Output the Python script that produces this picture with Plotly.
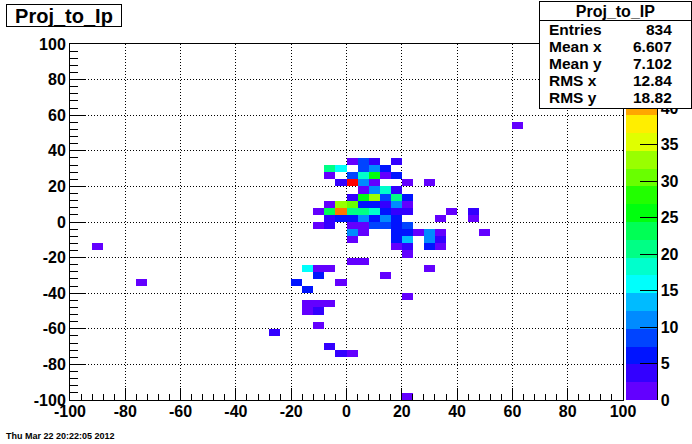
import colorsys
import plotly.graph_objects as go

# ---------------- data ----------------
hist_title = "Proj_to_Ip"
stats_title = "Proj_to_IP"
date_text = "Thu Mar 22 20:22:05 2012"

stats_labels = ["Entries", "Mean x", "Mean y", "RMS x", "RMS y"]
stats_values = ["834", "6.607", "7.102", "12.84", "18.82"]

axis_lo, axis_hi, bin_w = -100, 100, 4
z_max = 48.8

axis_tick_vals = [-100, -80, -60, -40, -20, 0, 20, 40, 60, 80, 100]
axis_tick_text = ["-100", "-80", "-60", "-40", "-20", "0", "20", "40", "60", "80", "100"]
cbar_tick_vals = [0, 5, 10, 15, 20, 25, 30, 35, 40]
cbar_tick_text = ["0", "5", "10", "15", "20", "25", "30", "35", "40"]

# non-empty cells: lower bin edge in x, lower bin edge in y, count
cell_x = [60,
          0, 4, 8, 16,
          -8, -4, 4, 8, 12,
          -8, 0, 4, 8, 12, 16,
          -4, 0, 4, 8, 20, 28,
          4, 8, 12, 16,
          0, 4, 8, 12, 16, 20,
          -8, -4, 0, 4, 8, 12, 16, 20,
          -12, -8, -4, 0, 4, 8, 12, 16, 20, 36, 44,
          -8, -4, 0, 4, 8, 12, 16, 32, 44,
          -12, -8, 0, 4, 8, 12, 16, 20,
          0, 4, 16, 20, 24, 28, 32, 48,
          0, 16, 20, 28, 32,
          -92, 16, 20, 28, 32,
          20,
          0, 4,
          -16, -12, -8, 28,
          -12, 12,
          -76, -20, -4,
          -16,
          20,
          -16, -12, -8,
          -16, -12,
          -12,
          -28,
          -8,
          -4, 0,
          20]
cell_y = [52,
          32, 32, 32, 32,
          28, 28, 28, 28, 28,
          24, 24, 24, 24, 24, 24,
          20, 20, 20, 20, 20, 20,
          16, 16, 16, 16,
          12, 12, 12, 12, 12, 12,
          8, 8, 8, 8, 8, 8, 8, 8,
          4, 4, 4, 4, 4, 4, 4, 4, 4, 4, 4,
          0, 0, 0, 0, 0, 0, 0, 0, 0,
          -4, -4, -4, -4, -4, -4, -4, -4,
          -8, -8, -8, -8, -8, -8, -8, -8,
          -12, -12, -12, -12, -12,
          -16, -16, -16, -16, -16,
          -20,
          -24, -24,
          -28, -28, -28, -28,
          -32, -32,
          -36, -36, -36,
          -40,
          -44,
          -48, -48, -48,
          -52, -52,
          -60,
          -64,
          -72,
          -76, -76,
          -100]
cell_n = [1,
          2, 8, 4, 3,
          20, 16, 8, 11, 6,
          2, 9, 18, 25, 2, 6,
          4, 48, 11, 2, 1, 1,
          2, 11, 18, 4,
          4, 25, 33, 8, 20, 6,
          2, 32, 31, 6, 6, 4, 11, 2,
          1, 23, 42, 21, 21, 19, 6, 3, 4, 1, 3,
          4, 6, 6, 11, 6, 11, 6, 1, 1,
          1, 3, 2, 2, 8, 8, 6, 8,
          11, 2, 6, 6, 2, 10, 2, 1,
          1, 6, 13, 11, 3,
          1, 2, 4, 6, 2,
          1,
          1, 1,
          15, 2, 2, 1,
          6, 1,
          1, 6, 1,
          6,
          1,
          2, 2, 2,
          2, 3,
          1,
          3,
          3,
          3, 1,
          1]

# ---------------- geometry / style ----------------
W_FIG, H_FIG = 692, 444
L, R, T, B = 70, 69, 44, 44
PW, PH = W_FIG - L - R, H_FIG - T - B
FONT = "Liberation Sans"


def px_x(px):
    return (px - L) / PW


def px_y(py):
    return (T + PH - py) / PH


# ROOT "pretty" palette (gStyle->SetPalette(1)) with 20 contour levels
def root_color(idx):
    if idx >= 49:
        return "rgb(255,0,0)"
    hue = 280 - (idx + 1) * 5.6
    r, g, b = colorsys.hls_to_rgb(hue / 360.0, 0.5, 1.0)
    return "rgb(%d,%d,%d)" % (round(r * 255), round(g * 255), round(b * 255))


n_cont = 20
band_colors = [root_color(min(int((k + 0.99) * 50 / n_cont), 49)) for k in range(n_cont)]
colorscale = []
for k, c in enumerate(band_colors):
    colorscale.append([k / n_cont, c])
    colorscale.append([(k + 1) / n_cont, c])

nb = int((axis_hi - axis_lo) / bin_w)
centers = [axis_lo + bin_w * (i + 0.5) for i in range(nb)]
z = [[None] * nb for _ in range(nb)]
for xv, yv, nv in zip(cell_x, cell_y, cell_n):
    z[int((yv - axis_lo) // bin_w)][int((xv - axis_lo) // bin_w)] = nv

fig = go.Figure()
fig.add_trace(go.Heatmap(
    x=centers, y=centers, z=z, zmin=0, zmax=z_max,
    colorscale=colorscale, hoverinfo="skip", xgap=0, ygap=0,
    colorbar=dict(
        thickness=31, thicknessmode="pixels", len=1, lenmode="fraction",
        x=px_x(626), xanchor="left", xpad=0, y=0.5, yanchor="middle", ypad=0,
        outlinewidth=0, ticks="inside", ticklen=17, tickcolor="black", tickwidth=1,
        tickmode="array", tickvals=cbar_tick_vals, ticktext=cbar_tick_text,
        tickfont=dict(family=FONT, size=16, color="black", weight="bold"),
    ),
))

tickfont = dict(family=FONT, size=16, color="black", weight="bold")


def axis(ticklen, minorlen, standoff):
    return dict(
        range=[axis_lo, axis_hi], showline=True, linecolor="black", linewidth=1,
        mirror=True, ticks="inside", ticklen=ticklen, tickcolor="black", tickwidth=1,
        tickmode="array", tickvals=axis_tick_vals, ticktext=axis_tick_text,
        showgrid=True, gridcolor="black", gridwidth=1, griddash="1px,2px",
        zeroline=False, layer="above traces", tickfont=tickfont,
        ticklabelstandoff=standoff, automargin=False,
        minor=dict(ticks="inside", tickmode="linear", tick0=axis_lo, dtick=bin_w,
                   ticklen=minorlen, tickcolor="black", tickwidth=1, showgrid=False),
    )


fig.update_layout(
    width=W_FIG, height=H_FIG,
    margin=dict(l=L, r=R, t=T, b=B, pad=0, autoexpand=False),
    paper_bgcolor="white", plot_bgcolor="white", showlegend=False,
    xaxis=axis(12, 6, -3), yaxis=axis(16, 8, 0),
)

# right edge line of the palette axis
fig.add_shape(type="line", xref="paper", yref="paper",
              x0=px_x(657.5), x1=px_x(657.5), y0=0, y1=1,
              line=dict(color="black", width=1), layer="above")

ann = []
# histogram title box
ann.append(dict(text=hist_title, xref="paper", yref="paper",
                x=px_x(5.5), y=px_y(4), xanchor="left", yanchor="top",
                width=114, height=21, borderpad=0, borderwidth=1,
                bordercolor="black", bgcolor="white", showarrow=False,
                font=dict(family=FONT, size=20, color="black", weight="bold")))
# stats box: title part and body part
ann.append(dict(text=stats_title, xref="paper", yref="paper",
                x=px_x(539), y=px_y(0.5), xanchor="left", yanchor="top",
                width=151, height=19, borderpad=0, borderwidth=1,
                bordercolor="black", bgcolor="white", showarrow=False,
                font=dict(family=FONT, size=16, color="black", weight="bold")))
ann.append(dict(text=" ", xref="paper", yref="paper",
                x=px_x(539), y=px_y(20), xanchor="left", yanchor="top",
                width=151, height=87, borderpad=0, borderwidth=1,
                bordercolor="black", bgcolor="white", showarrow=False,
                font=dict(family=FONT, size=12, color="black")))
for i, (lab, val) in enumerate(zip(stats_labels, stats_values)):
    yy = px_y(29.5 + 16.9 * i)
    ann.append(dict(text=lab, xref="paper", yref="paper", x=px_x(547), y=yy,
                    xanchor="left", yanchor="middle", showarrow=False,
                    font=dict(family=FONT, size=15.5, color="black", weight="bold")))
    ann.append(dict(text=val, xref="paper", yref="paper", x=px_x(674), y=yy,
                    xanchor="right", yanchor="middle", showarrow=False,
                    font=dict(family=FONT, size=15.5, color="black", weight="bold")))
# date stamp
ann.append(dict(text=date_text, xref="paper", yref="paper", x=px_x(4), y=px_y(436),
                xanchor="left", yanchor="middle", showarrow=False,
                font=dict(family=FONT, size=9, color="black", weight="bold")))
fig.update_layout(annotations=ann)

fig.write_html("out.html", config={"displayModeBar": False},
               post_script="document.body.style.margin='0px';")
